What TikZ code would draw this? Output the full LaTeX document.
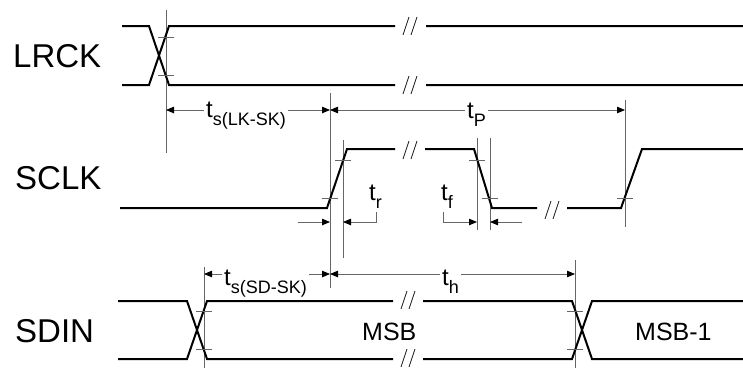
\documentclass[tikz,border=0pt]{standalone}
\usepackage{fontspec}
\setmainfont{Liberation Sans}
\usetikzlibrary{arrows.meta}
\begin{document}
\begin{tikzpicture}[x=1pt,y=-1pt,
  sig/.style={line width=2pt, line join=miter, draw=black},
  guide/.style={line width=0.8pt, draw=black!60},
  tickln/.style={line width=0.8pt, draw=black!60},
  dimln/.style={line width=0.8pt, draw=black!60},
  onetip/.style={dimln, -{Triangle[length=8pt,width=6.5pt,color=black]}},
  twotip/.style={dimln, {Triangle[length=8pt,width=6.5pt,color=black]}-{Triangle[length=8pt,width=6.5pt,color=black]}},
  signame/.style={anchor=base west, inner sep=0pt, font=\fontsize{33}{33}\selectfont},
  datalab/.style={anchor=base west, inner sep=0pt, font=\fontsize{25}{25}\selectfont},
  dimlab/.style={anchor=base west, inner xsep=2pt, inner ysep=1pt, fill=white},
  tlab/.style={anchor=base west, inner sep=0pt},
  brk/.pic={\draw[line width=0.9pt, black!85] (-7,9) -- (-1,-9) (1,9) -- (7,-9);}
]
\newcommand{\tsym}[1]{{\fontsize{24}{24}\selectfont t}\raisebox{-8.5pt}{\fontsize{18}{18}\selectfont #1}}
\useasboundingbox (0,0) rectangle (743,368);

% guide lines
\draw[guide] (166,10) -- (166,153);
\draw[guide] (330,93) -- (330,288);
\draw[guide] (343,140) -- (343,258);
\draw[guide] (477,138) -- (477,230);
\draw[guide] (490,138) -- (490,230);
\draw[guide] (625,100) -- (625,227);
\draw[guide] (204,267) -- (204,368);
\draw[guide] (575,260) -- (575,368);

% dimension coordinates
\coordinate (aL) at (166,110);
\coordinate (aM) at (330,110);
\coordinate (aR) at (625,110);
\coordinate (bL) at (204,274);
\coordinate (bM) at (330,274);
\coordinate (bR) at (575,274);
\coordinate (c298) at (298,222);
\coordinate (c330) at (330,222);
\coordinate (c343) at (343,222);
\coordinate (r1) at (376,212);
\coordinate (r2) at (376,222);
\coordinate (f1) at (443,212);
\coordinate (f2) at (443,222);
\coordinate (c477) at (477,222);
\coordinate (c490) at (490,222);
\coordinate (c522) at (522,222);

% dimension arrows
\draw[twotip] (aL) -- (aM);
\draw[twotip] (aM) -- (aR);
\draw[twotip] (bL) -- (bM);
\draw[twotip] (bM) -- (bR);
\draw[onetip] (c298) -- (c330);
\draw[onetip] (r1) -- (r2) -- (c343);
\draw[onetip] (f1) -- (f2) -- (c477);
\draw[onetip] (c522) -- (c490);

% dimension labels
\node[dimlab] (lts1) at (204,117) {\tsym{s(LK-SK)}};
\node[dimlab] (ltp) at (465,118) {\tsym{P}};
\node[dimlab] (lts2) at (222,285) {\tsym{s(SD-SK)}};
\node[dimlab] (lth) at (440,285) {\tsym{h}};
\node[tlab] (ltr) at (369,200) {\tsym{r}};
\node[tlab] (ltf) at (441,200) {\tsym{f}};

% signal names
\node[signame] (lrck) at (13,67) {LRCK};
\node[signame] (sclk) at (15,189) {SCLK};
\node[signame] (sdin) at (15,342) {SDIN};
\node[datalab] (msb) at (362,340) {MSB};
\node[datalab] (msb1) at (635,340) {MSB-1};

% LRCK
\draw[sig] (122,26) -- (149,26) -- (169,85) -- (395,85) (426,85) -- (743,85);
\draw[sig] (122,85) -- (149,85) -- (169,26) -- (395,26) (426,26) -- (743,26);
\pic at (410,26) {brk};
\pic at (410,85) {brk};

% SCLK
\draw[sig] (120,208) -- (327,208) -- (347,149) -- (395,149)
           (425,149) -- (474,149) -- (492,208) -- (537,208)
           (567,208) -- (621,208) -- (642,149) -- (743,149);
\pic at (410,150) {brk};
\pic at (552,210) {brk};

% SDIN
\draw[sig] (118,301) -- (187,301) -- (207,359) -- (393,359) (423,359) -- (572,359) -- (592,301) -- (743,301);
\draw[sig] (118,359) -- (187,359) -- (207,301) -- (393,301) (423,301) -- (572,301) -- (592,359) -- (743,359);
\pic at (408,300) {brk};
\pic at (408,358) {brk};

% ticks
\foreach \x/\y in {166/37,166/75,330/198,343/160,477/160,490/198,625/198,204/311,204/349,575/311,575/349}
  \draw[tickln] (\x-8,\y) -- (\x+8,\y);
\end{tikzpicture}
\end{document}
